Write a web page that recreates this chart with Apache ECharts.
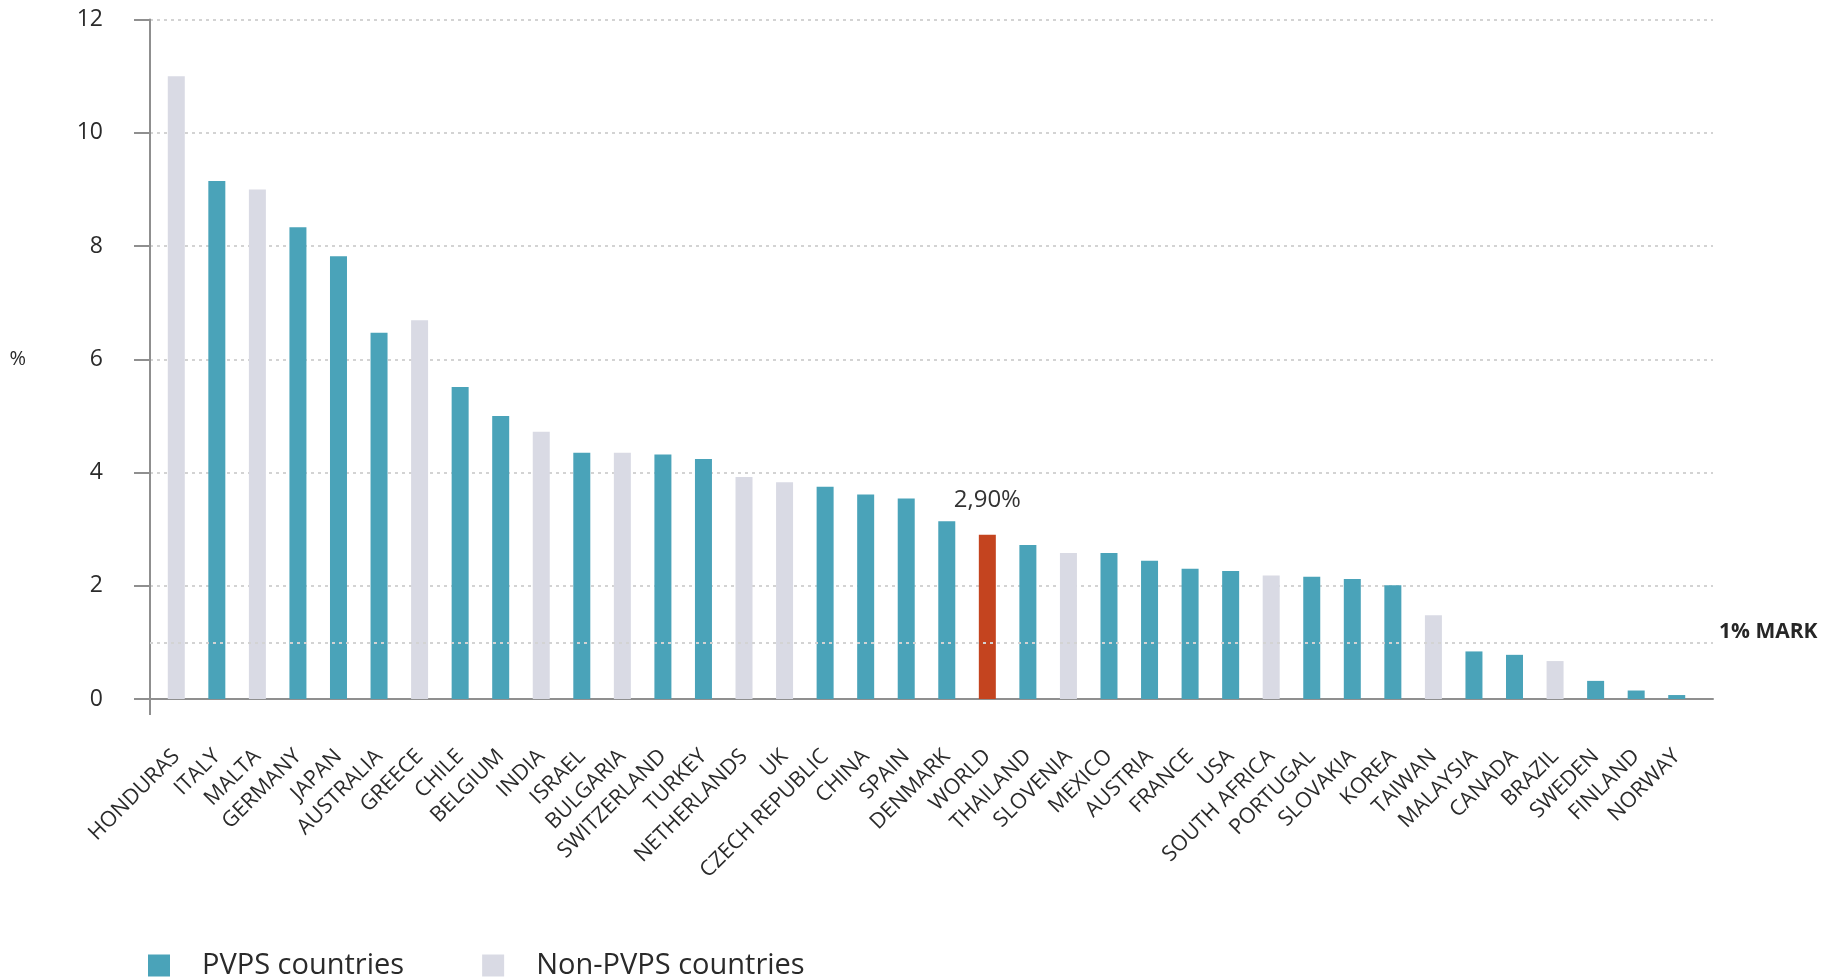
<!DOCTYPE html>
<html>
<head>
<meta charset="utf-8">
<title>Solar PV share of electricity demand</title>
<script src="https://cdn.jsdelivr.net/npm/echarts@6/dist/echarts.min.js"></script>
<style>
  html, body { margin: 0; padding: 0; background: #ffffff; }
  #chart { width: 1832px; height: 980px; }
</style>
</head>
<body>
<div id="chart"></div>
<script>
// Countries, ordered by theoretical PV penetration (% of electricity demand)
const categories = [
  'HONDURAS', 'ITALY', 'MALTA', 'GERMANY', 'JAPAN', 'AUSTRALIA', 'GREECE', 'CHILE',
  'BELGIUM', 'INDIA', 'ISRAEL', 'BULGARIA', 'SWITZERLAND', 'TURKEY', 'NETHERLANDS', 'UK',
  'CZECH REPUBLIC', 'CHINA', 'SPAIN', 'DENMARK', 'WORLD', 'THAILAND', 'SLOVENIA', 'MEXICO',
  'AUSTRIA', 'FRANCE', 'USA', 'SOUTH AFRICA', 'PORTUGAL', 'SLOVAKIA', 'KOREA', 'TAIWAN',
  'MALAYSIA', 'CANADA', 'BRAZIL', 'SWEDEN', 'FINLAND', 'NORWAY'
];

const shares = [
  11.0, 9.15, 9.0, 8.33, 7.82, 6.47, 6.69, 5.51,
  5.0, 4.72, 4.35, 4.35, 4.32, 4.24, 3.92, 3.83,
  3.75, 3.61, 3.54, 3.14, 2.90, 2.72, 2.58, 2.58,
  2.44, 2.30, 2.26, 2.18, 2.16, 2.12, 2.01, 1.48,
  0.84, 0.78, 0.67, 0.32, 0.15, 0.07
];

// P = PVPS member, N = non-PVPS, W = world average
const groups = [
  'N', 'P', 'N', 'P', 'P', 'P', 'N', 'P',
  'P', 'N', 'P', 'N', 'P', 'P', 'N', 'N',
  'P', 'P', 'P', 'P', 'W', 'P', 'N', 'P',
  'P', 'P', 'P', 'N', 'P', 'P', 'P', 'N',
  'P', 'P', 'N', 'P', 'P', 'P'
];

const yTicks = [0, 2, 4, 6, 8, 10, 12];
const markValue = 1;

const seriesNames = { P: 'PVPS countries', N: 'Non-PVPS countries', W: 'World' };
const colors = { P: '#4aa3b9', N: '#d9dae4', W: '#c4441f' };

const FONT = '"Open Sans", "Noto Sans", sans-serif';
const TEXT = '#2b2b2b';
const AXIS = '#8f8f8f';
const GRIDLINE = '#d3d3d3';

function valuesFor(code) {
  return shares.map((v, i) => (groups[i] === code ? v : null));
}

function barSeries(code) {
  const s = {
    name: seriesNames[code],
    type: 'bar',
    xAxisIndex: 1,
    yAxisIndex: 1,
    barWidth: 17,
    barGap: '-100%',
    itemStyle: { color: colors[code] },
    data: valuesFor(code),
    silent: true
  };
  if (code === 'W') {
    s.label = {
      show: true,
      position: 'top',
      distance: 23,
      color: '#333333',
      fontFamily: FONT,
      fontWeight: 500,
      fontSize: 24,
      formatter: p => p.value.toFixed(2).replace('.', ',') + '%'
    };
  }
  return s;
}

const chart = echarts.init(document.getElementById('chart'), null, { renderer: 'canvas' });

chart.setOption({
  backgroundColor: '#ffffff',
  animation: false,
  textStyle: { fontFamily: FONT },
  legend: {
    data: [seriesNames.P, seriesNames.N],
    left: 143,
    top: 946,
    icon: 'rect',
    itemWidth: 22,
    itemHeight: 22,
    itemGap: 78,
    selectedMode: false,
    textStyle: {
      color: '#2a2a2a',
      fontFamily: FONT,
      fontWeight: 500,
      fontSize: 29,
      padding: [0, 0, 0, 27]
    }
  },
  grid: [
    // frame: axes, gridlines and the 1% mark
    { left: 150, right: 119, top: 19.5, bottom: 281, containLabel: false },
    // bars
    { left: 156, right: 135, top: 19.5, bottom: 281, containLabel: false }
  ],
  xAxis: [
    {
      type: 'value',
      gridIndex: 0,
      min: 0,
      max: 1,
      axisLine: { show: true, lineStyle: { color: AXIS, width: 2 } },
      axisTick: { show: true, customValues: [0], length: 16, lineStyle: { color: AXIS, width: 2 } },
      axisLabel: { show: false },
      splitLine: { show: false }
    },
    {
      type: 'category',
      gridIndex: 1,
      data: categories,
      axisLine: { show: false },
      axisTick: { show: false },
      axisLabel: {
        interval: 0,
        rotate: 45,
        margin: 54,
        color: TEXT,
        fontFamily: FONT,
        fontWeight: 500,
        fontSize: 21.5
      }
    }
  ],
  yAxis: [
    {
      type: 'value',
      gridIndex: 0,
      min: yTicks[0],
      max: yTicks[yTicks.length - 1],
      interval: 2,
      name: '%',
      nameLocation: 'middle',
      nameRotate: 0,
      nameGap: 124,
      nameTextStyle: { color: TEXT, fontFamily: FONT, fontWeight: 500, fontSize: 20 },
      axisLine: { show: true, lineStyle: { color: AXIS, width: 2 } },
      axisTick: { show: true, length: 16, lineStyle: { color: AXIS, width: 2 } },
      axisLabel: {
        margin: 47,
        color: TEXT,
        fontFamily: FONT,
        fontWeight: 500,
        fontSize: 23,
        formatter: v => (yTicks.includes(v) ? String(v) : '')
      },
      splitLine: {
        show: true,
        lineStyle: { color: GRIDLINE, width: 2, type: [3, 4] }
      }
    },
    {
      type: 'value',
      gridIndex: 1,
      min: yTicks[0],
      max: yTicks[yTicks.length - 1],
      interval: 2,
      show: false
    }
  ],
  series: [
    {
      name: '1% mark',
      type: 'line',
      xAxisIndex: 0,
      yAxisIndex: 0,
      data: [],
      silent: true,
      markLine: {
        silent: true,
        symbol: 'none',
        lineStyle: { color: GRIDLINE, width: 2, type: [3, 4] },
        label: {
          show: true,
          position: 'end',
          distance: 6,
          verticalAlign: 'bottom',
          color: '#262626',
          fontFamily: FONT,
          fontWeight: 'bold',
          fontSize: 21,
          formatter: markValue + '% MARK'
        },
        data: [{ yAxis: markValue }]
      }
    },
    barSeries('N'),
    barSeries('P'),
    barSeries('W')
  ]
});
</script>
</body>
</html>
